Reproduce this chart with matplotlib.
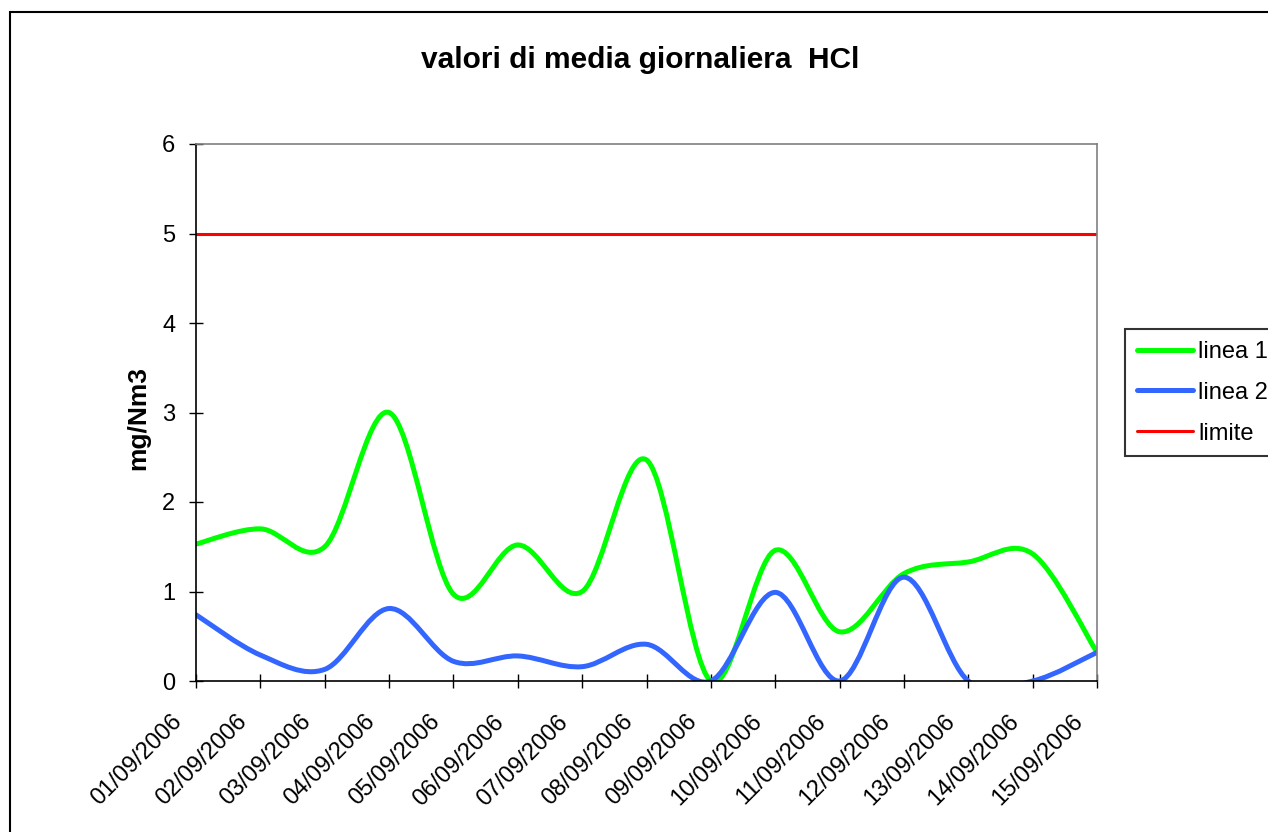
import matplotlib
matplotlib.use('Agg')
import matplotlib.pyplot as plt
import numpy as np
from matplotlib.path import Path
from matplotlib.patches import PathPatch, Rectangle
from matplotlib.lines import Line2D
from matplotlib.transforms import ScaledTranslation

plt.rcParams['font.family'] = ['Liberation Sans', 'DejaVu Sans']

# daily values
dates = ['01/09/2006', '02/09/2006', '03/09/2006', '04/09/2006', '05/09/2006',
         '06/09/2006', '07/09/2006', '08/09/2006', '09/09/2006', '10/09/2006',
         '11/09/2006', '12/09/2006', '13/09/2006', '14/09/2006', '15/09/2006']
linea1 = [1.53, 1.70, 1.50, 3.00, 0.97, 1.52, 1.00, 2.47, 0.00, 1.46,
          0.55, 1.20, 1.33, 1.42, 0.32]
linea2 = [0.74, 0.29, 0.13, 0.81, 0.22, 0.28, 0.16, 0.41, 0.00, 0.99,
          0.00, 1.16, 0.00, 0.00, 0.32]
limite = [5.0] * len(dates)

W, H, DPI = 1268, 832, 100


def smooth_path(xs, ys):
    # Excel-like smoothed line: Catmull-Rom segments as cubic Bezier curves
    pts = np.column_stack([xs, ys]).astype(float)
    n = len(pts)
    verts = [pts[0]]
    codes = [Path.MOVETO]
    for i in range(n - 1):
        p0 = pts[max(i - 1, 0)]
        p1 = pts[i]
        p2 = pts[i + 1]
        p3 = pts[min(i + 2, n - 1)]
        verts += [p1 + (p2 - p0) / 6, p2 - (p3 - p1) / 6, p2]
        codes += [Path.CURVE4] * 3
    return Path(verts, codes)


fig = plt.figure(figsize=(W / DPI, H / DPI), dpi=DPI)
ax = fig.add_axes([196 / W, 1 - 681 / H, (1097 - 196) / W, (681 - 144) / H])

# outer chart frame (runs off the right and bottom edges)
fig.patches.append(Rectangle((10 / W, -0.1), 1.2, 1 - 12 / H + 0.1,
                             transform=fig.transFigure, fill=False,
                             edgecolor='black', linewidth=1.5))

x = np.arange(len(dates))
colors = {'linea 1': '#00ff00', 'linea 2': '#3366ff', 'limite': '#ff0000'}

for name, vals in [('linea 1', linea1), ('linea 2', linea2)]:
    ax.add_patch(PathPatch(smooth_path(x, vals), fill=False,
                           edgecolor=colors[name], linewidth=3.6,
                           capstyle='round', joinstyle='round', zorder=3))
ax.plot(x, limite, color=colors['limite'], linewidth=2.2, zorder=3)

ax.set_xlim(0, len(dates) - 1)
ax.set_ylim(0, 6)
ax.set_yticks(range(0, 7))
ax.set_xticks(x)
ax.set_xticklabels(dates, rotation=45, ha='right', va='center',
                   rotation_mode='anchor')
ax.tick_params(axis='both', direction='inout', length=10, width=1,
               labelsize=17)
ax.tick_params(axis='y', pad=10)
ax.tick_params(axis='x', pad=22)
for lbl in ax.get_xticklabels():
    lbl.set_transform(lbl.get_transform() +
                      ScaledTranslation(-17 / DPI, 0, fig.dpi_scale_trans))

for side in ['top', 'right']:
    ax.spines[side].set_color('#808080')
for side in ['left', 'bottom']:
    ax.spines[side].set_color('black')
for sp in ax.spines.values():
    sp.set_linewidth(1.2)
    sp.set_zorder(4)

ax.set_ylabel('mg/Nm3', fontsize=19, fontweight='bold')
ax.yaxis.set_label_coords((150 - 196) / (1097 - 196), 0.49)

fig.text((418 + 862) / 2 / W, 1 - 60 / H, 'valori di media giornaliera  HCl',
         ha='center', va='center', fontsize=21.5, fontweight='bold')

handles = [Line2D([], [], color=colors['linea 1'], linewidth=3.6, solid_capstyle='round'),
           Line2D([], [], color=colors['linea 2'], linewidth=3.6, solid_capstyle='round'),
           Line2D([], [], color=colors['limite'], linewidth=2.2, solid_capstyle='round')]
leg = fig.legend(handles, ['linea 1', 'linea 2', 'limite'], loc='upper left',
                 bbox_to_anchor=(1125 / W, 1 - 329 / H), fontsize=17,
                 frameon=True, fancybox=False, shadow=False, borderpad=0.5,
                 handlelength=2.4, handletextpad=0.2, labelspacing=0.8,
                 borderaxespad=0)
leg.get_frame().set_edgecolor('black')
leg.get_frame().set_linewidth(1.5)

fig.savefig('out.png', dpi=DPI)
